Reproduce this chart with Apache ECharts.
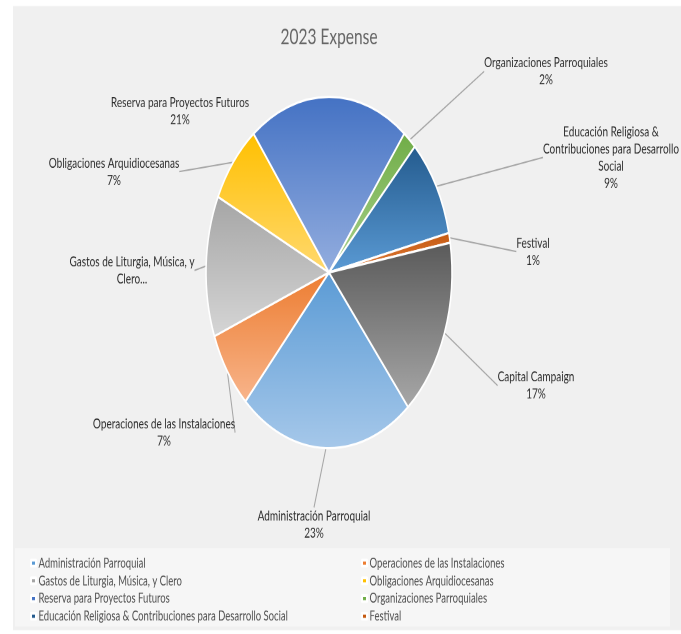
<!DOCTYPE html>
<html>
<head>
<meta charset="utf-8">
<script src="https://cdn.jsdelivr.net/npm/echarts@6/dist/echarts.min.js"></script>
<style>
  html, body { margin: 0; padding: 0; background: #ffffff; overflow: hidden; }
  #chart { position: absolute; left: 0; top: 0; width: 681px; height: 444px; transform: scaleY(1.428); transform-origin: 0 0; }
</style>
</head>
<body>
<div id="chart"></div>
<script>
// ---- data ----
const chartTitle = '2023 Expense';
const categories = [
  'Administración Parroquial',
  'Operaciones de las Instalaciones',
  'Gastos de Liturgia, Música, y Clero',
  'Obligaciones Arquidiocesanas',
  'Reserva para Proyectos Futuros',
  'Organizaciones Parroquiales',
  'Educación Religiosa & Contribuciones para Desarrollo Social',
  'Festival',
  'Capital Campaign'
];
const shares = [23.0, 7.2, 13.0, 7.4, 21.0, 1.8, 9.1, 0.9, 16.6];
const legendColumnA = [
  'Administración Parroquial',
  'Gastos de Liturgia, Música, y Clero',
  'Reserva para Proyectos Futuros',
  'Educación Religiosa & Contribuciones para Desarrollo Social'
];
const legendColumnB = [
  'Operaciones de las Instalaciones',
  'Obligaciones Arquidiocesanas',
  'Organizaciones Parroquiales',
  'Festival'
];

// ---- styling (not data) ----
const gradientPairs = [
  ['#5b9bd5', '#a6c8ea'],
  ['#ed7d31', '#f8b58c'],
  ['#a5a5a5', '#d6d6d6'],
  ['#ffc000', '#ffd970'],
  ['#4472c4', '#94aedf'],
  ['#70ad47', '#a9d18e'],
  ['#245b8e', '#5b9bd5'],
  ['#c55a11', '#e07b39'],
  ['#5a5a5a', '#a8a8a8']
];
const wrappedText = {
  'Educación Religiosa & Contribuciones para Desarrollo Social': 'Educación Religiosa &\nContribuciones para Desarrollo\nSocial',
  'Gastos de Liturgia, Música, y Clero': 'Gastos de Liturgia, Música, y\nClero...'
};
const truncatedNoPercent = { 'Gastos de Liturgia, Música, y Clero': true };
// label anchor spots (label layout, in chart px)
const labelSpots = [
  [314, 367.3], [164, 302.9], [132, 189.4], [114, 120.1], [180, 77.7],
  [546, 50.0], [611, 110.3], [533, 176.1], [536, 270.0]
];
const noLeader = { 'Reserva para Proyectos Futuros': true };

const FONT = 'Lato, "Liberation Sans", Arial, sans-serif';

const pieData = categories.map((name, i) => ({
  name: name,
  value: shares[i],
  itemStyle: {
    color: {
      type: 'linear', x: 0, y: 0, x2: 0, y2: 1,
      colorStops: [
        { offset: 0, color: gradientPairs[i][0] },
        { offset: 1, color: gradientPairs[i][1] }
      ]
    }
  },
  labelLine: { show: !noLeader[name] }
}));

function legendItems(names) {
  return names.map(n => {
    const i = categories.indexOf(n);
    return { name: n, itemStyle: { color: gradientPairs[i][0] } };
  });
}

const legendCommon = {
  orient: 'vertical',
  icon: 'rect',
  itemWidth: 5,
  itemHeight: 4.2,
  itemGap: 0.4,
  padding: 0,
  selectedMode: false,
  textStyle: { fontFamily: FONT, fontSize: 9.5, lineHeight: 12, color: '#505050', padding: [0, 0, 0, -2.5] }
};

const chart = echarts.init(document.getElementById('chart'), null, { renderer: 'canvas', devicePixelRatio: 2 });
chart.setOption({
  animation: false,
  graphic: [
    { type: 'rect', silent: true, z: -10, shape: { x: 13, y: 4.2, width: 668, height: 437 }, style: { fill: '#f0f0f0' } },
    { type: 'rect', silent: true, z: -9, shape: { x: 15, y: 383.8, width: 655, height: 55 }, style: { fill: '#f6f6f6' } }
  ],
  title: {
    text: chartTitle,
    left: 329,
    top: 17,
    padding: 0,
    textAlign: 'center',
    textStyle: { fontFamily: FONT, fontSize: 15.5, fontWeight: 'normal', color: '#666666', lineHeight: 18 }
  },
  legend: [
    Object.assign({}, legendCommon, { left: 30, top: 388.3, data: legendItems(legendColumnA) }),
    Object.assign({}, legendCommon, { left: 361, top: 388.3, data: legendItems(legendColumnB) })
  ],
  series: [{
    type: 'pie',
    center: [329, 190.8],
    radius: 123,
    startAngle: -50,
    clockwise: true,
    percentPrecision: 0,
    avoidLabelOverlap: false,
    itemStyle: { borderColor: '#ffffff', borderWidth: 1.6 },
    label: {
      show: true,
      position: 'outside',
      fontFamily: FONT,
      fontSize: 10,
      lineHeight: 12,
      color: '#2e2e2e',
      align: 'center',
      formatter: function (p) {
        const txt = wrappedText[p.name] || p.name;
        return truncatedNoPercent[p.name] ? txt : txt + '\n' + p.percent + '%';
      }
    },
    labelLine: { show: true, length: 10, length2: 0, smooth: false, lineStyle: { color: '#a6a6a6', width: 1 } },
    labelLayout: function (params) {
      const s = labelSpots[params.dataIndex];
      return { x: s[0], y: s[1], align: 'center', verticalAlign: 'middle', hideOverlap: false };
    },
    emphasis: { disabled: true },
    data: pieData
  }]
});
</script>
</body>
</html>
